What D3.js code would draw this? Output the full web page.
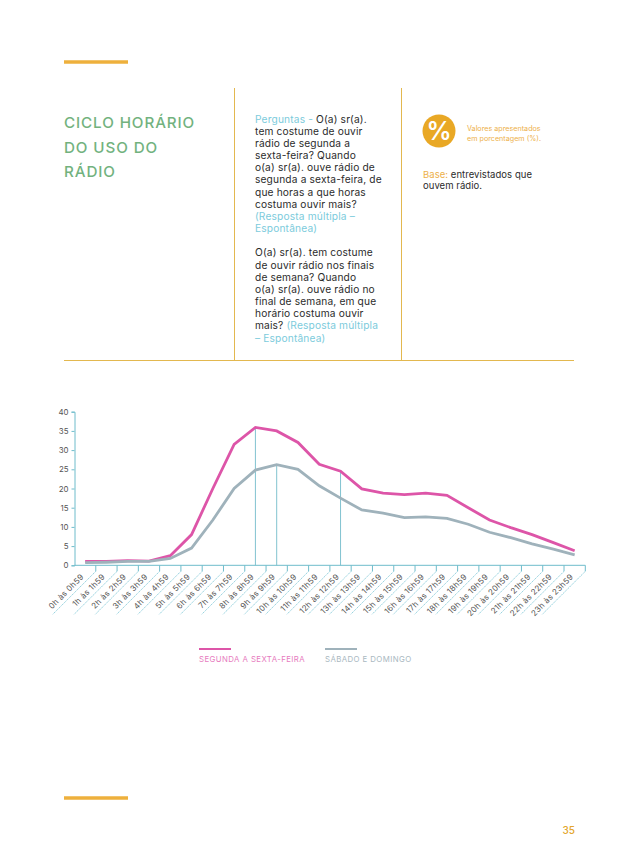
<!DOCTYPE html>
<html><head><meta charset="utf-8">
<script src="https://cdn.jsdelivr.net/npm/d3@7"></script>
<style>html,body{margin:0;padding:0;background:#fff}svg{display:block}text{font-family:Inter,"Open Sans",sans-serif}</style>
</head><body><svg id="c" width="638" height="862"></svg>
<script>
const hours = ["0h às 0h59","1h às 1h59","2h às 2h59","3h às 3h59","4h às 4h59","5h às 5h59","6h às 6h59","7h às 7h59","8h às 8h59","9h às 9h59","10h às 10h59","11h às 11h59","12h às 12h59","13h às 13h59","14h às 14h59","15h às 15h59","16h às 16h59","17h às 17h59","18h às 18h59","19h às 19h59","20h às 20h59","21h às 21h59","22h às 22h59","23h às 23h59"];
const weekdays = [1.0,1.0,1.2,1.1,2.5,8.0,20.0,31.5,35.9,35.0,32.0,26.3,24.5,19.9,18.8,18.4,18.8,18.2,15.0,11.8,9.8,8.0,5.9,3.8];
const weekends = [0.7,0.8,1.0,1.0,1.8,4.5,11.8,20.0,24.8,26.2,25.0,20.7,17.5,14.4,13.6,12.4,12.6,12.2,10.7,8.6,7.2,5.6,4.2,2.7];
const highlighted = [[8,"w"],[9,"e"],[12,"w"]];
const yTicks = [0,5,10,15,20,25,30,35,40];
const seriesNames = ["SEGUNDA A SEXTA-FEIRA","SÁBADO E DOMINGO"];
const titleLines = ["CICLO HORÁRIO","DO USO DO","RÁDIO"];
const questionLines = [
 [["Perguntas - ","c"],["O(a) sr(a).","k"]],[["tem costume de ouvir","k"]],[["rádio de segunda a","k"]],[["sexta-feira? Quando","k"]],
 [["o(a) sr(a). ouve rádio de","k"]],[["segunda a sexta-feira, de","k"]],[["que horas a que horas","k"]],[["costuma ouvir mais?","k"]],
 [["(Resposta múltipla –","c"]],[["Espontânea)","c"]],[],
 [["O(a) sr(a). tem costume","k"]],[["de ouvir rádio nos finais","k"]],[["de semana? Quando","k"]],[["o(a) sr(a). ouve rádio no","k"]],
 [["final de semana, em que","k"]],[["horário costuma ouvir","k"]],[["mais? ","k"],["(Resposta múltipla","c"]],[["– Espontânea)","c"]]];
const baseLines = [[["Base: ","o"],["entrevistados que","k"]],[["ouvem rádio.","k"]]];
const noteLines = ["Valores apresentados","em porcentagem (%)."];
const pageNumber = "35";

const col = {k:"#2b2b2b",c:"#7ccbdc",o:"#edb04a",gold:"#e3b84f",bar:"#eeb03c",green:"#72b27e",pink:"#dd55a8",gray:"#9fb2bb",axis:"#6fbccb",dots:"#7cc6d6",tick:"#555",vline:"#74bccb"};
const svg = d3.select("#c");
const rule=(x1,y1,x2,y2,c,w)=>svg.append("line").attr("x1",x1).attr("y1",y1).attr("x2",x2).attr("y2",y2).attr("stroke",c).attr("stroke-width",w);
rule(64,62,128,62,col.bar,3.5);
rule(64,798,128,798,col.bar,3.5);
rule(234.5,88,234.5,360,col.gold,1);
rule(401.5,88,401.5,360,col.gold,1);
rule(64,360.5,574,360.5,col.gold,1);

svg.selectAll("text.title").data(titleLines).join("text").attr("class","title")
 .attr("x",64).attr("y",(d,i)=>128+i*24.5).attr("fill",col.green).attr("font-size",15.2).attr("font-weight",500).attr("letter-spacing",.9).text(d=>d);

function block(lines,px,y0,lh,fs,ls){
  lines.forEach((parts,i)=>{
    if(!parts.length) return;
    const t=svg.append("text").attr("x",px).attr("y",y0+i*lh).attr("font-size",fs).attr("letter-spacing",ls);
    parts.forEach(p=>t.append("tspan").attr("fill",col[p[1]]).attr("xml:space","preserve").text(p[0]));
  });
}
block(questionLines,255,122.6,12.17,10.2,.15);
block(baseLines,423,177.6,11,9.5,.05);

svg.append("circle").attr("cx",439).attr("cy",131).attr("r",16.5).attr("fill","#e9a825");
svg.append("text").attr("x",439).attr("y",140).attr("text-anchor","middle").attr("fill","#fff").attr("font-size",25).attr("font-weight",600).text("%");
svg.selectAll("text.note").data(noteLines).join("text").attr("class","note")
 .attr("x",467).attr("y",(d,i)=>131+i*9.7).attr("fill",col.o).attr("font-size",7.2).text(d=>d);

const pLeft=74.5,pRight=585.3,pTop=411.7,pBottom=565.3;
const x=d3.scaleBand().domain(hours).range([pLeft,pRight]);
const y=d3.scaleLinear().domain([0,40]).range([pBottom,pTop]);
const cx=h=>x(h)+x.bandwidth()/2;

const g=svg.append("g");
const yAxis=g.append("g").attr("transform",`translate(${pLeft},0)`).call(d3.axisLeft(y).tickValues(yTicks).tickSize(3).tickPadding(3));
yAxis.selectAll("path,line").attr("stroke",col.axis);
yAxis.selectAll("text").attr("fill",col.tick).attr("font-size",7.9);

const xAxis=g.append("g").attr("transform",`translate(0,${pBottom})`).call(d3.axisBottom(x).tickSize(0).tickFormat(""));
xAxis.select("path").attr("stroke",col.axis).attr("d",`M${pLeft},0H${pRight}`);
const edges=hours.map(h=>x(h)+x.bandwidth());
g.selectAll("line.xt").data(edges).join("line").attr("class","xt").attr("x1",d=>d).attr("x2",d=>d).attr("y1",pBottom).attr("y2",pBottom+6).attr("stroke",col.axis);
g.selectAll("line.xd").data(edges).join("line").attr("class","xd").attr("x1",d=>d).attr("x2",d=>d-43).attr("y1",pBottom+6).attr("y2",pBottom+49).attr("stroke",col.dots).attr("stroke-width",.8).attr("stroke-dasharray","1.6 .7");
g.selectAll("text.xl").data(hours).join("text").attr("class","xl")
 .attr("transform",h=>`translate(${x(h)+x.bandwidth()-11.5},${pBottom+12}) rotate(-45)`).attr("text-anchor","end")
 .attr("fill",col.tick).attr("font-size",8).attr("letter-spacing",.3).text(d=>d);

g.selectAll("line.vl").data(highlighted).join("line").attr("class","vl")
 .attr("x1",d=>cx(hours[d[0]])).attr("x2",d=>cx(hours[d[0]])).attr("y1",pBottom)
 .attr("y2",d=>y((d[1]==="e"?weekends:weekdays)[d[0]])).attr("stroke",col.vline).attr("stroke-width",.9);

const lineGen=d3.line().x((d,i)=>cx(hours[i])).y(d=>y(d));
g.append("path").datum(weekdays).attr("fill","none").attr("stroke",col.pink).attr("stroke-width",2.8).attr("d",lineGen);
g.append("path").datum(weekends).attr("fill","none").attr("stroke",col.gray).attr("stroke-width",2.8).attr("d",lineGen);

[[199,col.pink,"#e77cc0"],[325,col.gray,"#a9b8bf"]].forEach((l,i)=>{
  rule(l[0],649,l[0]+32,649,l[1],2);
  svg.append("text").attr("x",l[0]).attr("y",662).attr("fill",l[2]).attr("font-size",7.8).attr("letter-spacing",.42).text(seriesNames[i]);
});
svg.append("text").attr("x",575).attr("y",834).attr("text-anchor","end").attr("fill","#e3a62c").attr("font-size",10).attr("font-weight",500).text(pageNumber);
</script></body></html>
